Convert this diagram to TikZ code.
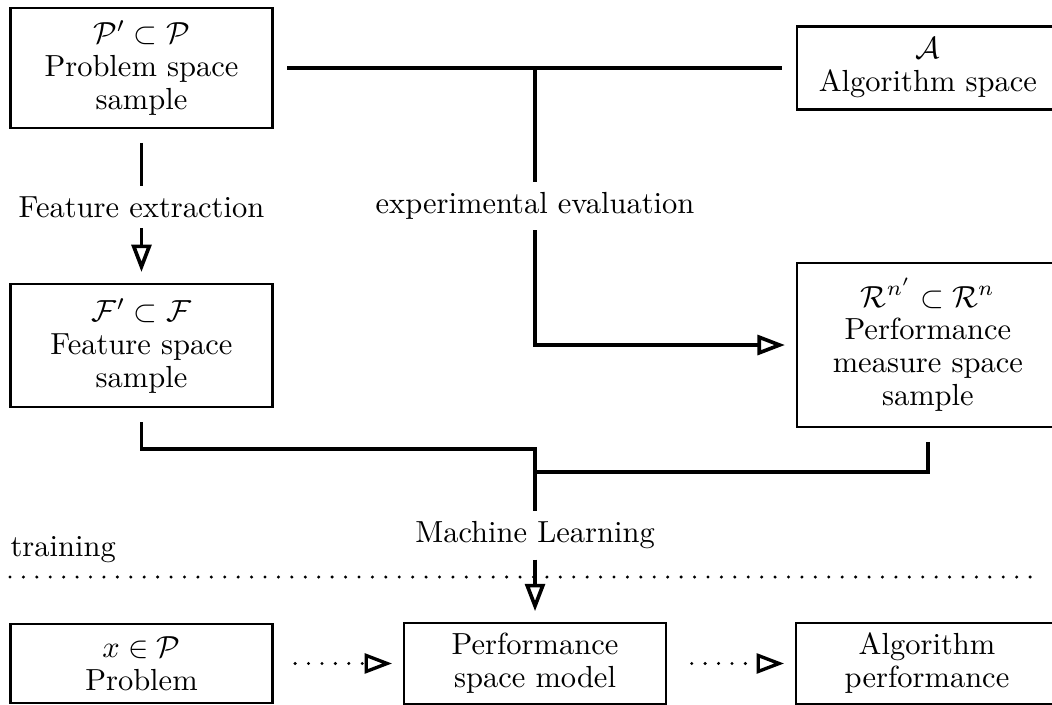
\documentclass[tikz,border=0pt]{standalone}
\usetikzlibrary{arrows.meta}

\begin{document}
\begin{tikzpicture}[
    box/.style={draw, line width=0.8pt, minimum width=3.02cm, align=center, font=\fontsize{10}{10.8}\selectfont},
    link/.style={line width=1.2pt},
    tip/.style={-{Triangle[open,length=9pt,width=6.5pt]}, shorten >=3.5pt},
    dotline/.style={line width=1.1pt, dash pattern=on 0pt off 4.4pt, line cap=round}
]
    \useasboundingbox (0,0) rectangle (12.12,8.111);
    \clip (0,0) rectangle (12.12,8.111);

    % samples used for training
    \node[box, minimum height=1.38cm] (P) at (1.63,7.327) {$\mathcal{P}' \subset \mathcal{P}$\\Problem space\\sample};
    \node[box, minimum height=0.956cm] (A) at (10.69,7.327) {$\mathcal{A}$\\Algorithm space};
    \node[box, minimum height=1.42cm] (F) at (1.63,4.13) {$\mathcal{F}' \subset \mathcal{F}$\\Feature space\\sample};
    \node[box, minimum height=1.89cm] (R) at (10.69,4.136) {$\mathcal{R}^{n'} \subset \mathcal{R}^n$\\Performance\\measure space\\sample};

    % labels on the connectors
    \node (feat) at (1.63,5.726) {Feature extraction};
    \node (exp) at (6.164,5.737) {experimental evaluation};
    \node (ML) at (6.164,1.947) {Machine Learning};
    \node[anchor=base west, inner sep=0pt] (train) at (0.115,1.705) {training};

    % use of the model
    \node[box, minimum height=0.91cm] (Prob) at (1.63,0.467) {$x \in \mathcal{P}$\\Problem};
    \node[box, minimum height=0.91cm] (PSM) at (6.164,0.467) {Performance\\space model};
    \node[box, minimum height=0.91cm] (AP) at (10.68,0.467) {Algorithm\\performance};

    \coordinate (topsplit) at (exp |- P.east);
    \coordinate (fjoin) at (6.164,2.938);
    \coordinate (rjoin) at (6.164,2.673);
    \coordinate (dotL) at (0.115,1.463);
    \coordinate (dotR) at (11.98,1.463);

    \draw[link, shorten <=4.5pt, shorten >=4.5pt] (P.east) -- (A.west);
    \draw[link] (topsplit) -- (exp.north);
    \draw[link, tip] (exp.south) |- (R.west);
    \draw[link, shorten <=4.5pt] (P.south) -- (feat.north);
    \draw[link, tip] (feat.south) -- (F.north);
    \draw[link, shorten <=4.5pt] (F.south) |- (fjoin) -- (ML.north);
    \draw[link, shorten <=4.5pt] (R.south) |- (rjoin);
    \draw[link, tip] (ML.south) -- (PSM.north);

    \draw[dotline] (dotL) -- (dotR);
    \draw[dotline, tip, shorten <=7pt] (Prob.east) -- (PSM.west);
    \draw[dotline, tip, shorten <=8pt] (PSM.east) -- (AP.west);
\end{tikzpicture}
\end{document}
